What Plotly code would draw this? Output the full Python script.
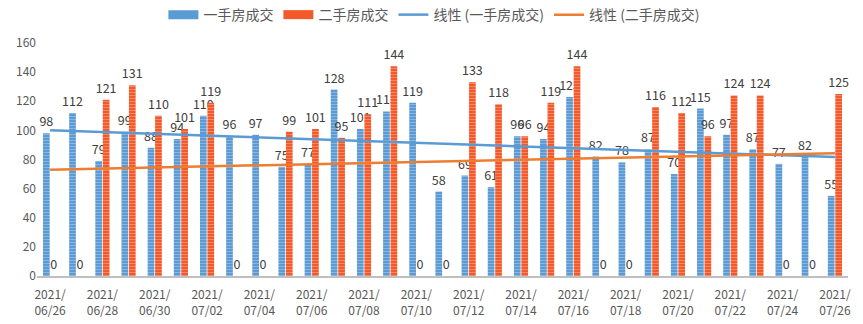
import numpy as np
import pandas as pd
import plotly.graph_objects as go

# Daily transaction counts, 2021/06/26 - 2021/07/26
dates = pd.date_range("2021-06-26", "2021-07-26", freq="D").strftime("%Y/%m/%d").tolist()
new_home = [98, 112, 79, 99, 88, 94, 110, 96, 97, 75, 77, 128, 101, 113, 119, 58,
            69, 61, 96, 94, 123, 82, 78, 87, 70, 115, 97, 87, 77, 82, 55]
resale = [0, 0, 121, 131, 110, 101, 119, 0, 0, 99, 101, 95, 111, 144, 0, 0,
          133, 118, 96, 119, 144, 0, 0, 116, 112, 96, 124, 124, 0, 0, 125]

series_names = ["一手房成交", "二手房成交"]
trend_names = ["线性 (一手房成交)", "线性 (二手房成交)"]
tick_dates = dates[::2]
tick_text = [d[:5] + "<br>" + d[5:] for d in tick_dates]

# Least-squares linear trend for each series
idx = np.arange(len(dates))
def trend(values):
    k, b = np.polyfit(idx, np.array(values, dtype=float), 1)
    return k * idx + b

BLUE = "#5B9BD5"
RED = "#F4592A"
ORANGE = "#ED7D31"
FONT = "Noto Sans CJK SC"

fig = go.Figure()
for name, vals, col in [(series_names[0], new_home, BLUE), (series_names[1], resale, RED)]:
    fig.add_trace(go.Bar(
        x=dates, y=vals, name=name, showlegend=False, legendgroup=name,
        marker=dict(color=col, line=dict(width=0),
                    pattern=dict(shape="-", fillmode="overlay",
                                 fgcolor="rgba(255,255,255,0.55)", size=3, solidity=0.35)),
        text=[str(v) for v in vals], textposition="outside", constraintext="none",
        cliponaxis=False,
        textfont=dict(family=FONT, size=12.5, color="#404040"),
    ))
    # wide swatch for the legend entry of each bar series
    fig.add_trace(go.Scatter(x=[None], y=[None], mode="lines", name=name, legendgroup=name,
                             line=dict(color=col, width=9)))

fig.add_trace(go.Scatter(x=dates, y=trend(new_home), mode="lines", name=trend_names[0],
                         line=dict(color=BLUE, width=2.5)))
fig.add_trace(go.Scatter(x=dates, y=trend(resale), mode="lines", name=trend_names[1],
                         line=dict(color=ORANGE, width=2.5)))

fig.update_layout(
    width=863, height=324,
    margin=dict(l=37, r=15, t=43, b=48, autoexpand=False),
    paper_bgcolor="white", plot_bgcolor="white",
    barmode="group", bargap=0.43, bargroupgap=0.1,
    font=dict(family=FONT, color="#595959", size=12),
    legend=dict(orientation="h", x=0.49, xanchor="center", y=1.12, yanchor="middle",
                font=dict(size=14, color="#595959"), itemwidth=30,
                traceorder="normal"),
    showlegend=True,
)
fig.update_xaxes(type="category", tickmode="array", tickvals=tick_dates, ticktext=tick_text,
                 showgrid=False, showline=True, linecolor="#BFBFBF", linewidth=2,
                 ticks="outside", ticklen=7, tickcolor="rgba(0,0,0,0)", automargin=False,
                 tickfont=dict(size=12, color="#595959"))
fig.update_yaxes(range=[0, 160], dtick=20, showgrid=False, zeroline=False, automargin=False,
                 showline=False, ticks="", tickfont=dict(size=12, color="#595959"))

fig.write_html("out.html")
